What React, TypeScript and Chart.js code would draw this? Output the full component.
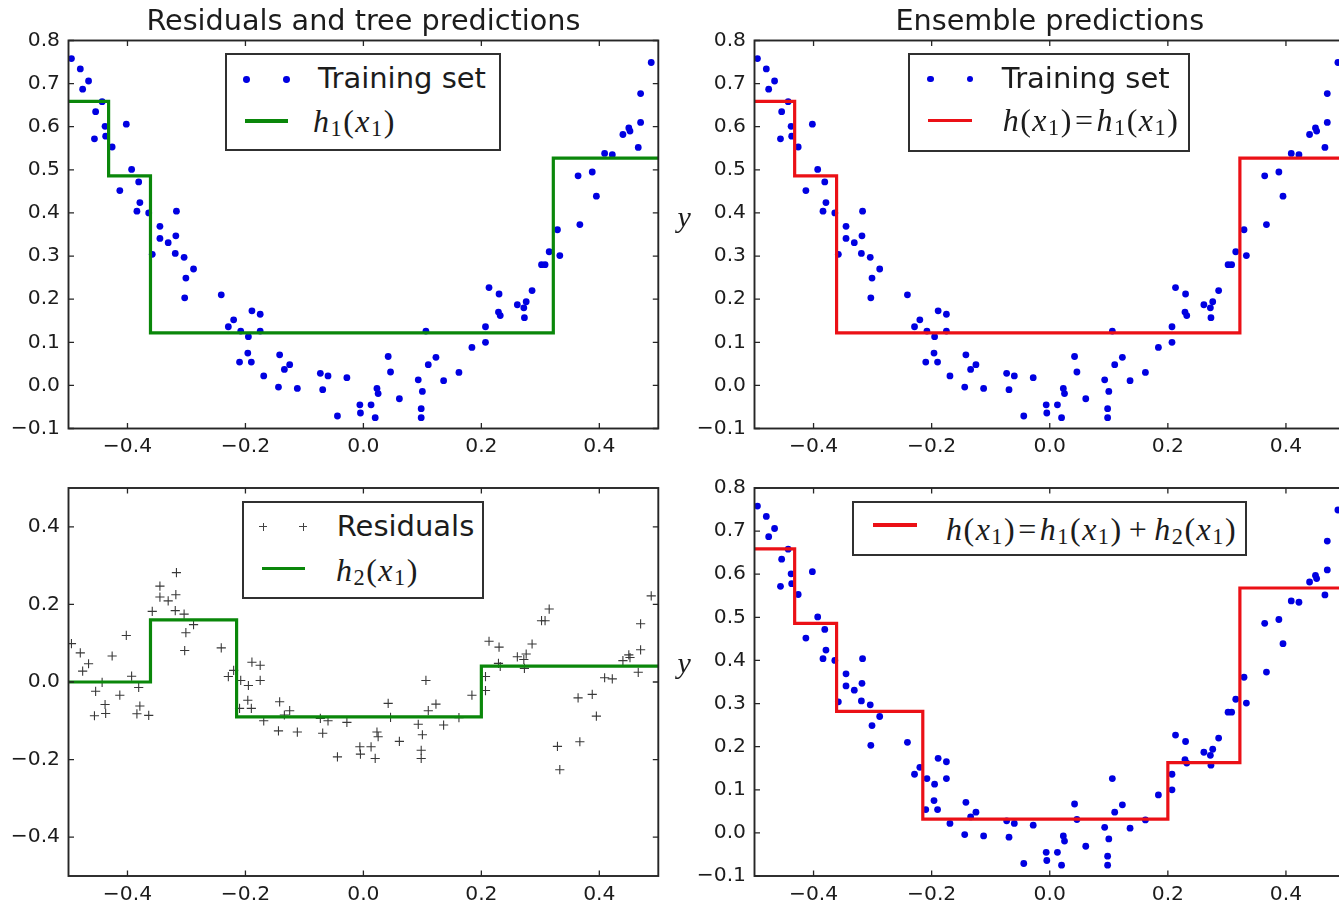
import React, { useEffect, useRef } from "react";
import { Chart, registerables } from "chart.js";

Chart.register(...registerables);

// ---------------- data ----------------
const TRAIN_X = [
  -0.495, -0.48, -0.466, -0.476, -0.443, -0.454, -0.438, -0.402, -0.456, -0.437,
  -0.426, -0.393, -0.381, -0.413, -0.379, -0.384, -0.364, -0.317, -0.345, -0.345,
  -0.318, -0.331, -0.358, -0.319, -0.304, -0.288, -0.301, -0.303, -0.241, -0.229,
  -0.22, -0.189, -0.175, -0.208, -0.175, -0.195, -0.196, -0.21, -0.19, -0.169,
  -0.142, -0.125, -0.134, -0.144, -0.112, -0.073, -0.06, -0.069, -0.028, -0.044,
  -0.006, -0.005, 0.013, 0.023, 0.025, 0.02, 0.042, 0.046, 0.061, 0.093,
  0.1, 0.098, 0.098, 0.106, 0.11, 0.123, 0.136, 0.162, 0.184, 0.207,
  0.207, 0.213, 0.23, 0.229, 0.232, 0.261, 0.276, 0.272, 0.273, 0.286,
  0.302, 0.308, 0.315, 0.333, 0.329, 0.364, 0.388, 0.395, 0.367, 0.409,
  0.422, 0.44, 0.45, 0.452, 0.47, 0.466, 0.47, 0.488,
];
const TRAIN_Y = [
  0.758, 0.734, 0.706, 0.687, 0.658, 0.635, 0.601, 0.606, 0.572, 0.578,
  0.553, 0.501, 0.472, 0.452, 0.424, 0.404, 0.4, 0.404, 0.369, 0.341,
  0.347, 0.331, 0.304, 0.306, 0.297, 0.27, 0.249, 0.203, 0.21, 0.136,
  0.152, 0.173, 0.165, 0.126, 0.126, 0.113, 0.075, 0.054, 0.054, 0.022,
  0.071, 0.048, 0.037, -0.004, -0.007, 0.028, 0.022, -0.01, 0.018, -0.071,
  -0.045, -0.064, -0.045, -0.007, -0.019, -0.075, 0.067, 0.031, -0.031, 0.013,
  -0.014, -0.054, -0.075, 0.126, 0.048, 0.065, 0.011, 0.03, 0.088, 0.1,
  0.136, 0.227, 0.212, 0.17, 0.162, 0.187, 0.194, 0.18, 0.157, 0.22,
  0.28, 0.28, 0.31, 0.301, 0.361, 0.486, 0.495, 0.439, 0.373, 0.538,
  0.535, 0.582, 0.597, 0.59, 0.61, 0.552, 0.677, 0.749,
];
const RESIDUAL_Y = [
  0.099, 0.075, 0.047, 0.028, -0.001, -0.024, -0.058, 0.12, -0.087, -0.081,
  0.067, 0.015, -0.014, -0.034, -0.062, -0.082, -0.086, 0.282, 0.247, 0.219,
  0.225, 0.209, 0.182, 0.184, 0.175, 0.148, 0.127, 0.081, 0.088, 0.014,
  0.03, 0.051, 0.043, 0.004, 0.004, -0.009, -0.047, -0.068, -0.068, -0.1,
  -0.051, -0.074, -0.085, -0.126, -0.129, -0.094, -0.1, -0.132, -0.104, -0.193,
  -0.167, -0.186, -0.167, -0.129, -0.141, -0.197, -0.055, -0.091, -0.153, -0.109,
  -0.136, -0.176, -0.197, 0.004, -0.074, -0.057, -0.111, -0.092, -0.034, -0.022,
  0.014, 0.105, 0.09, 0.048, 0.04, 0.065, 0.072, 0.058, 0.035, 0.098,
  0.158, 0.158, 0.188, -0.226, -0.166, -0.041, -0.032, -0.088, -0.154, 0.011,
  0.008, 0.055, 0.07, 0.063, 0.083, 0.025, 0.15, 0.222,
];

const H1_X = [-0.5, -0.432, -0.361, 0.322, 0.5];
const H1_Y = [0.659, 0.486, 0.122, 0.527, 0.527];
const H2_X = [-0.5, -0.361, -0.215, 0.2, 0.5];
const H2_Y = [0.0, 0.16, -0.09, 0.041, 0.041];
const ENSEMBLE_X = [-0.5, -0.432, -0.361, -0.215, 0.2, 0.322, 0.5];
const ENSEMBLE_Y = [0.659, 0.486, 0.282, 0.032, 0.163, 0.568, 0.568];

const X_TICKS = [-0.4, -0.2, 0.0, 0.2, 0.4];
const Y_TICKS_PRED = [-0.1, 0.0, 0.1, 0.2, 0.3, 0.4, 0.5, 0.6, 0.7, 0.8];
const Y_TICKS_RESID = [-0.4, -0.2, 0.0, 0.2, 0.4];

const TITLES = ["Residuals and tree predictions", "Ensemble predictions"];
const LEGEND_TRAIN = "Training set";
const LEGEND_RESID = "Residuals";

// ---------------- styling / layout ----------------
const BLUE = "rgb(0,0,225)";
const GREEN = "rgb(10,135,10)";
const RED = "rgb(235,16,22)";
const INK = "#1c1c1c";
const TEXT_FONT = '"DejaVu Sans", sans-serif';
const MATH_FONT = '"Liberation Serif", "Times New Roman", serif';

const CANVAS_W = 1360;
const CANVAS_H = 904;
const Y_AXIS_W = 60;
const X_AXIS_H = 24;

type Area = { l: number; t: number; r: number; b: number };
const AREA_TL: Area = { l: 68.5, t: 40.5, r: 658.3, b: 428.5 };
const AREA_BL: Area = { l: 68.5, t: 488, r: 658.3, b: 876 };
const AREA_TR: Area = { l: 754.5, t: 40.5, r: 1345, b: 428.5 };
const AREA_BR: Area = { l: 754.5, t: 488, r: 1345, b: 876 };

const pts = (xs: number[], ys: number[]) => xs.map((x, i) => ({ x, y: ys[i] }));
const fmt = (v: number) => {
  const s = (Math.abs(v) < 1e-9 ? 0 : v).toFixed(1);
  return s.replace("-", "\u2212");
};

const framePlugin = {
  id: "mplFrame",
  afterDraw(chart: any) {
    const { ctx, chartArea: a, scales } = chart;
    ctx.save();
    ctx.strokeStyle = "#262626";
    ctx.lineWidth = 1.3;
    ctx.beginPath();
    const tl = 5.5;
    for (const t of scales.x.ticks) {
      const px = scales.x.getPixelForValue(t.value);
      ctx.moveTo(px, a.bottom);
      ctx.lineTo(px, a.bottom - tl);
      ctx.moveTo(px, a.top);
      ctx.lineTo(px, a.top + tl);
    }
    for (const t of scales.y.ticks) {
      const py = scales.y.getPixelForValue(t.value);
      ctx.moveTo(a.left, py);
      ctx.lineTo(a.left + tl, py);
      ctx.moveTo(a.right, py);
      ctx.lineTo(a.right - tl, py);
    }
    ctx.stroke();
    ctx.lineWidth = 1.9;
    ctx.strokeRect(a.left, a.top, a.right - a.left, a.bottom - a.top);
    ctx.restore();
  },
};

type PanelProps = {
  area: Area;
  yMin: number;
  yMax: number;
  yTicks: number[];
  datasets: any[];
};

function Panel({ area, yMin, yMax, yTicks, datasets }: PanelProps) {
  const ref = useRef<HTMLCanvasElement | null>(null);
  useEffect(() => {
    if (!ref.current) return;
    const tickFont = { family: "DejaVu Sans", size: 20.3 };
    const chart = new Chart(ref.current, {
      type: "scatter",
      data: { datasets },
      options: {
        animation: false,
        responsive: false,
        devicePixelRatio: 1,
        events: [],
        layout: {
          padding: {
            left: area.l - Y_AXIS_W,
            top: area.t,
            right: CANVAS_W - area.r,
            bottom: CANVAS_H - area.b - X_AXIS_H,
          },
        },
        plugins: {
          legend: { display: false },
          tooltip: { enabled: false },
          title: { display: false },
        },
        scales: {
          x: {
            type: "linear",
            min: -0.5,
            max: 0.5,
            grid: { display: false, drawTicks: false },
            border: { display: false },
            ticks: {
              font: tickFont,
              color: INK,
              padding: 6.5,
              maxRotation: 0,
              callback: (v: any) => fmt(Number(v)),
            },
            afterBuildTicks: (s: any) => {
              s.ticks = X_TICKS.map((v) => ({ value: v }));
            },
            afterFit: (s: any) => {
              s.height = X_AXIS_H;
            },
          },
          y: {
            type: "linear",
            min: yMin,
            max: yMax,
            grid: { display: false, drawTicks: false },
            border: { display: false },
            ticks: {
              font: tickFont,
              color: INK,
              padding: 8.5,
              callback: (v: any) => fmt(Number(v)),
            },
            afterBuildTicks: (s: any) => {
              s.ticks = yTicks.map((v) => ({ value: v }));
            },
            afterFit: (s: any) => {
              s.width = Y_AXIS_W;
            },
          },
        },
      } as any,
      plugins: [framePlugin],
    });
    return () => chart.destroy();
  }, []);
  return (
    <canvas
      ref={ref}
      width={CANVAS_W}
      height={CANVAS_H}
      style={{ position: "absolute", left: 0, top: 0, width: CANVAS_W, height: CANVAS_H }}
    />
  );
}

const stepLine = (xs: number[], ys: number[], color: string) => ({
  type: "line",
  data: pts(xs, ys),
  stepped: true,
  borderColor: color,
  backgroundColor: color,
  borderWidth: 3.2,
  pointRadius: 0,
  fill: false,
  showLine: true,
});
const dots = (xs: number[], ys: number[]) => ({
  type: "scatter",
  data: pts(xs, ys),
  pointStyle: "circle",
  pointRadius: 3.4,
  backgroundColor: BLUE,
  borderWidth: 0,
});
const crosses = (xs: number[], ys: number[]) => ({
  type: "scatter",
  data: pts(xs, ys),
  pointStyle: "cross",
  pointRadius: 4.6,
  borderColor: "#383838",
  borderWidth: 1.1,
  backgroundColor: "#383838",
});

// ---------------- overlay pieces ----------------
const SANS_BASE = 0.846; // baseline offset (line-height = font-size)
const SERIF_BASE = 0.8375;

function Box({ l, t, r, b }: Area) {
  return (
    <div
      style={{
        position: "absolute",
        left: l - 1,
        top: t - 1,
        width: r - l + 2,
        height: b - t + 2,
        border: "2px solid #303030",
        boxSizing: "border-box",
        background: "#fff",
      }}
    />
  );
}
function Dot({ cx, cy }: { cx: number; cy: number }) {
  return (
    <div
      style={{
        position: "absolute",
        left: cx - 3.4,
        top: cy - 3.4,
        width: 6.8,
        height: 6.8,
        borderRadius: "50%",
        background: BLUE,
      }}
    />
  );
}
function Cross({ cx, cy }: { cx: number; cy: number }) {
  return (
    <>
      <div style={{ position: "absolute", left: cx - 4, top: cy - 0.5, width: 8, height: 1, background: "#444" }} />
      <div style={{ position: "absolute", left: cx - 0.5, top: cy - 4, width: 1, height: 8, background: "#444" }} />
    </>
  );
}
function Seg({ x1, x2, y, color }: { x1: number; x2: number; y: number; color: string }) {
  return (
    <div style={{ position: "absolute", left: x1, top: y - 1.6, width: x2 - x1, height: 3.2, background: color }} />
  );
}
function SansText({ x, base, size, children, center }: any) {
  return (
    <div
      style={{
        position: "absolute",
        left: x,
        top: base - SANS_BASE * size,
        fontFamily: TEXT_FONT,
        fontSize: size,
        lineHeight: `${size}px`,
        color: INK,
        whiteSpace: "nowrap",
        transform: center ? "translateX(-50%)" : undefined,
      }}
    >
      {children}
    </div>
  );
}
function MathText({ x, base, size, children, center }: any) {
  return (
    <div
      style={{
        position: "absolute",
        left: x,
        top: base - SERIF_BASE * size,
        fontFamily: MATH_FONT,
        fontSize: size,
        lineHeight: `${size}px`,
        letterSpacing: "1.5px",
        color: INK,
        whiteSpace: "nowrap",
        transform: center ? "translateX(-50%)" : undefined,
      }}
    >
      {children}
    </div>
  );
}
const It = ({ c }: { c: string }) => <span style={{ fontStyle: "italic" }}>{c}</span>;
const Sub = ({ c }: { c: string }) => (
  <span style={{ fontSize: "0.7em", verticalAlign: "-0.2em", lineHeight: 0 }}>{c}</span>
);
const Hx = ({ n }: { n?: string }) => (
  <>
    <It c="h" />
    {n ? <Sub c={n} /> : null}(<It c="x" />
    <Sub c="1" />)
  </>
);
const Op = ({ c, m }: { c: string; m: number }) => <span style={{ margin: `0 ${m}px` }}>{c}</span>;

const MATH_SIZE = 32;
const TITLE_SIZE = 28.7;
const LEGEND_SIZE = 29;

export default function App() {
  return (
    <div
      style={{
        position: "absolute",
        left: 0,
        top: 0,
        width: 1339,
        height: 904,
        overflow: "hidden",
        background: "#fff",
      }}
    >
      <Panel
        area={AREA_TL}
        yMin={-0.1}
        yMax={0.8}
        yTicks={Y_TICKS_PRED}
        datasets={[stepLine(H1_X, H1_Y, GREEN), dots(TRAIN_X, TRAIN_Y)]}
      />
      <Panel
        area={AREA_BL}
        yMin={-0.5}
        yMax={0.5}
        yTicks={Y_TICKS_RESID}
        datasets={[stepLine(H2_X, H2_Y, GREEN), crosses(TRAIN_X, RESIDUAL_Y)]}
      />
      <Panel
        area={AREA_TR}
        yMin={-0.1}
        yMax={0.8}
        yTicks={Y_TICKS_PRED}
        datasets={[stepLine(H1_X, H1_Y, RED), dots(TRAIN_X, TRAIN_Y)]}
      />
      <Panel
        area={AREA_BR}
        yMin={-0.1}
        yMax={0.8}
        yTicks={Y_TICKS_PRED}
        datasets={[stepLine(ENSEMBLE_X, ENSEMBLE_Y, RED), dots(TRAIN_X, TRAIN_Y)]}
      />

      {/* titles */}
      <SansText x={(AREA_TL.l + AREA_TL.r) / 2} base={30.5} size={TITLE_SIZE} center>
        {TITLES[0]}
      </SansText>
      <SansText x={(AREA_TR.l + AREA_TR.r) / 2} base={30.5} size={TITLE_SIZE} center>
        {TITLES[1]}
      </SansText>

      {/* y labels */}
      <MathText x={685} base={227} size={30} center>
        <It c="y" />
      </MathText>
      <MathText x={685} base={673} size={30} center>
        <It c="y" />
      </MathText>

      {/* legend: top-left */}
      <Box l={226} t={54} r={500} b={150} />
      <Dot cx={246.7} cy={79.3} />
      <Dot cx={286.7} cy={79.3} />
      <SansText x={318} base={89} size={LEGEND_SIZE}>
        {LEGEND_TRAIN}
      </SansText>
      <Seg x1={245} x2={288.3} y={121} color={GREEN} />
      <MathText x={313} base={131.5} size={MATH_SIZE}>
        <Hx n="1" />
      </MathText>

      {/* legend: top-right */}
      <Box l={909.3} t={54} r={1189.3} b={150.7} />
      <Dot cx={930.7} cy={79} />
      <Dot cx={970} cy={79} />
      <SansText x={1001.7} base={88.8} size={LEGEND_SIZE}>
        {LEGEND_TRAIN}
      </SansText>
      <Seg x1={928.3} x2={971.7} y={120.7} color={RED} />
      <MathText x={1002.7} base={131} size={MATH_SIZE}>
        <Hx />
        <Op c="=" m={2} />
        <Hx n="1" />
      </MathText>

      {/* legend: bottom-left */}
      <Box l={243.3} t={502.3} r={483.3} b={597.7} />
      <Cross cx={263.3} cy={526.7} />
      <Cross cx={303.3} cy={526.7} />
      <SansText x={336.7} base={536.8} size={LEGEND_SIZE}>
        {LEGEND_RESID}
      </SansText>
      <Seg x1={261.7} x2={305} y={568.3} color={GREEN} />
      <MathText x={336} base={581} size={MATH_SIZE}>
        <Hx n="2" />
      </MathText>

      {/* legend: bottom-right */}
      <Box l={853.3} t={501.7} r={1245.7} b={555} />
      <Seg x1={873} x2={917} y={525} color={RED} />
      <MathText x={946} base={539.5} size={MATH_SIZE}>
        <Hx />
        <Op c="=" m={2} />
        <Hx n="1" />
        <Op c="+" m={6} />
        <Hx n="2" />
      </MathText>
    </div>
  );
}
